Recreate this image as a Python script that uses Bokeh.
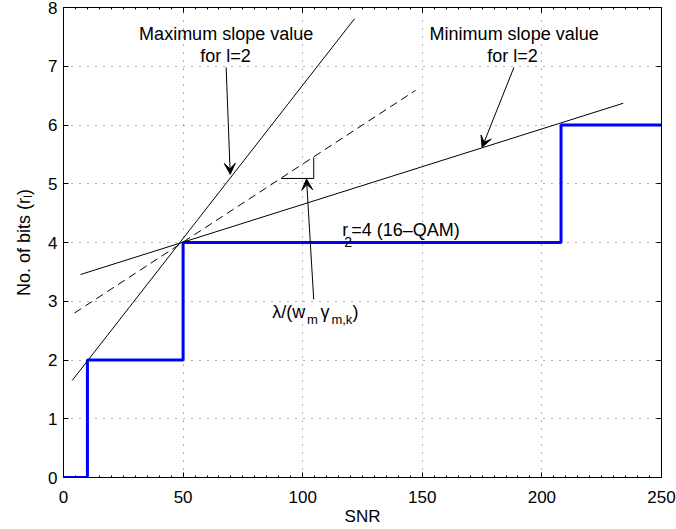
import math
from bokeh.plotting import figure
from bokeh.models import (Range1d, LinearAxis, Label, Arrow, VeeHead,
                          FixedTicker, CustomJSTickFormatter)
from bokeh.embed import file_html
from bokeh.resources import INLINE

FONT = "Liberation Sans"

# ---- data ----
step_snr = [0, 10, 10, 50, 50, 208, 208, 250]
step_bits = [0, 0, 2, 2, 4, 4, 6, 6]
max_slope_snr = [3.6, 121.7]
max_slope_bits = [1.65, 7.81]
min_slope_snr = [7.1, 234.0]
min_slope_bits = [3.455, 6.37]
mid_slope_snr = [4.6, 147.2]
mid_slope_bits = [2.80, 6.59]
tri_snr = [91.0, 104.6, 104.6]
tri_bits = [5.09, 5.09, 5.45]
x_ticks = [0, 50, 100, 150, 200, 250]
x_minor = list(range(0, 251, 5))
y_ticks = [0, 1, 2, 3, 4, 5, 6, 7, 8]

p = figure(width=676, height=529, output_backend="svg", toolbar_location=None,
           x_range=Range1d(0, 250), y_range=Range1d(0, 8),
           min_border_left=63, min_border_right=15, min_border_top=7,
           min_border_bottom=52, x_axis_location=None, y_axis_location=None)
p.outline_line_color = None
p.background_fill_color = "white"
p.border_fill_color = "white"

def style_axis(ax, ticker, labels=True):
    ax.ticker = ticker
    ax.axis_line_color = "black"
    ax.axis_line_width = 1
    ax.major_tick_in = 5
    ax.major_tick_out = 0
    ax.minor_tick_in = 2
    ax.minor_tick_out = 0
    ax.major_tick_line_color = "black"
    ax.minor_tick_line_color = "black"
    ax.major_label_text_font = FONT
    ax.major_label_text_font_size = "17px"
    ax.major_label_text_color = "black"
    ax.axis_label_text_font = FONT
    ax.axis_label_text_font_style = "normal"
    ax.axis_label_text_font_size = "17px"
    ax.axis_label_text_color = "black"
    if not labels:
        ax.formatter = CustomJSTickFormatter(code="return ''")
        ax.major_label_standoff = 0

xt = FixedTicker(ticks=x_ticks, minor_ticks=x_minor)
yt = FixedTicker(ticks=y_ticks, minor_ticks=[])

bottom = LinearAxis(axis_label="SNR")
style_axis(bottom, xt)
bottom.major_label_standoff = 13
bottom.axis_label_standoff = 1
p.add_layout(bottom, "below")

left = LinearAxis(axis_label="No. of bits (r\u2097)")
style_axis(left, yt)
left.major_label_standoff = 6
left.axis_label_standoff = 11
left.axis_label_text_font_size = "18px"
p.add_layout(left, "left")

top = LinearAxis()
style_axis(top, FixedTicker(ticks=x_ticks, minor_ticks=x_minor), labels=False)
p.add_layout(top, "above")

right = LinearAxis()
style_axis(right, FixedTicker(ticks=y_ticks, minor_ticks=[]), labels=False)
p.add_layout(right, "right")

p.xgrid.ticker = FixedTicker(ticks=x_ticks)
p.ygrid.ticker = FixedTicker(ticks=y_ticks)
for g in (p.xgrid, p.ygrid):
    g.grid_line_color = "black"
    g.grid_line_alpha = 0.6
    g.grid_line_dash = "1 7"
    g.grid_line_width = 1

# ---- marks ----
p.line(step_snr, step_bits, line_color="#0000ff", line_width=3)
p.line(max_slope_snr, max_slope_bits, line_color="black", line_width=1)
p.line(min_slope_snr, min_slope_bits, line_color="black", line_width=1)
p.line(mid_slope_snr, mid_slope_bits, line_color="black", line_width=1,
       line_dash="8 5")
p.line(tri_snr, tri_bits, line_color="black", line_width=1)

# ---- annotations ----
DY = 0.136  # baseline correction

def lab(x, y, t, size="18px", align="left", angle=0.0):
    p.add_layout(Label(x=x, y=y + DY, text=t, text_font=FONT,
                       text_font_size=size, text_align=align,
                       text_baseline="alphabetic", text_color="black",
                       angle=angle))

lab(68.0, 7.41, "Maximum slope value", align="center")
lab(67.7, 7.04, "for l=2", align="center")
lab(188.4, 7.41, "Minimum slope value", align="center")
lab(187.7, 7.04, "for l=2", align="center")

# r_2=4 (16-QAM)
lab(116.5, 4.085, "r")
lab(117.4, 3.88, "2", size="14px")
lab(120.3, 4.085, "=4 (16\u2013QAM)")

# lambda/(w_m gamma_{m,k})
lab(87.25, 2.689, "\u03bb/(w")
lab(101.8, 2.553, "m", size="13px")
lab(107.4, 2.689, "\u03b3")
lab(112.0, 2.553, "m,k", size="13px")
lab(120.8, 2.689, ")")

def arrow(x0, y0, x1, y1):
    p.add_layout(Arrow(x_start=x0, y_start=y0, x_end=x1, y_end=y1,
                       line_color="black", line_width=1,
                       end=VeeHead(size=11, fill_color="black",
                                   line_color="black")))

arrow(68.0, 6.98, 69.7, 5.16)
arrow(188.3, 6.98, 175.0, 5.62)
arrow(104.6, 3.03, 101.6, 5.08)

open("out.html", "w").write(file_html(p, INLINE))
